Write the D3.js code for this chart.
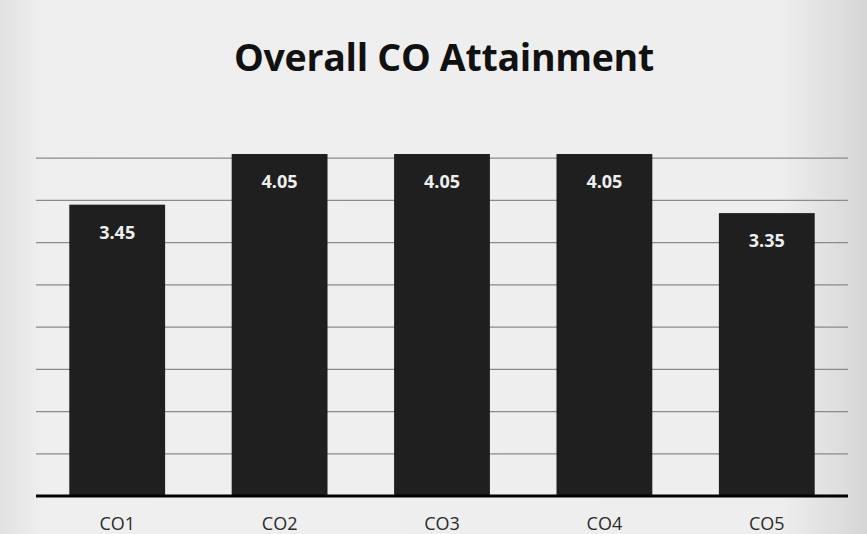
<!DOCTYPE html>
<html>
<head>
<meta charset="utf-8">
<script src="https://cdn.jsdelivr.net/npm/d3@7"></script>
<style>
  html, body { margin: 0; padding: 0; background: #ececec; }
  svg { display: block; }
</style>
</head>
<body>
<div id="figure"></div>
<script>
    // data
    const categories = ['CO1', 'CO2', 'CO3', 'CO4', 'CO5'];
    const attainment = [3.45, 4.05, 4.05, 4.05, 3.35];
    const gridTicks = [0.5, 1, 1.5, 2, 2.5, 3, 3.5, 4];

    const width = 867;
    const height = 534;
    const margin = { top: 116, right: 19, bottom: 38, left: 36 };

    const svg = d3.select('#figure').append('svg')
        .attr('width', width)
        .attr('height', height);

    // scanned paper look
    const defs = svg.append('defs');
    const grad = defs.append('linearGradient').attr('id', 'paper')
        .attr('x1', 0).attr('x2', 1).attr('y1', 0).attr('y2', 0);
    grad.append('stop').attr('offset', '0%').attr('stop-color', '#e2e2e2');
    grad.append('stop').attr('offset', '5%').attr('stop-color', '#efefef');
    grad.append('stop').attr('offset', '90%').attr('stop-color', '#eeeeee');
    grad.append('stop').attr('offset', '100%').attr('stop-color', '#d6d6d6');

    svg.append('rect')
        .attr('width', width)
        .attr('height', height)
        .attr('fill', 'url(#paper)');

    const x = d3.scaleBand()
        .domain(categories)
        .range([margin.left, width - margin.right])
        .paddingInner(0.41)
        .paddingOuter(0.205);

    const y = d3.scaleLinear()
        .domain([0, 4.5])
        .range([height - margin.bottom, margin.top]);

    // title
    svg.append('text')
        .attr('x', 444)
        .attr('y', 71)
        .attr('text-anchor', 'middle')
        .style('font-family', '"Open Sans", sans-serif')
        .style('font-weight', 'bold')
        .style('font-size', '37.5px')
        .style('letter-spacing', '-0.3px')
        .attr('fill', '#111')
        .text('Overall CO Attainment');

    // 网格线
    svg.append('g')
        .attr('class', 'grid')
        .selectAll('line')
        .data(gridTicks)
        .enter().append('line')
        .attr('x1', margin.left)
        .attr('x2', width - margin.right)
        .attr('y1', d => y(d))
        .attr('y2', d => y(d))
        .attr('stroke', '#8a8a8a')
        .attr('stroke-width', 1.2);

    // bars
    svg.append('g')
        .attr('class', 'bars')
        .selectAll('rect')
        .data(attainment)
        .enter().append('rect')
        .attr('x', (d, i) => x(categories[i]))
        .attr('width', x.bandwidth())
        .attr('y', d => y(d))
        .attr('height', d => y(0) - y(d))
        .attr('fill', '#1f1f1f');

    // data labels
    svg.append('g')
        .attr('class', 'labels')
        .selectAll('text')
        .data(attainment)
        .enter().append('text')
        .attr('x', (d, i) => x(categories[i]) + x.bandwidth() / 2)
        .attr('y', d => y(d) + 34)
        .attr('text-anchor', 'middle')
        .style('font-family', '"Open Sans", sans-serif')
        .style('font-weight', 'bold')
        .style('font-size', '18px')
        .attr('fill', '#eeeeee')
        .text(d => d.toFixed(2));

    // x axis
    const xAxis = svg.append('g')
        .attr('transform', `translate(0,${y(0)})`)
        .call(d3.axisBottom(x).tickSize(0).tickPadding(21));
    xAxis.select('.domain')
        .attr('stroke', '#000')
        .attr('stroke-width', 3)
        .attr('d', `M${margin.left},0H${width - margin.right}`);
    xAxis.selectAll('text')
        .style('font-family', '"Open Sans", sans-serif')
        .style('font-size', '18px')
        .attr('fill', '#2a2a2a');
</script>
</body>
</html>
